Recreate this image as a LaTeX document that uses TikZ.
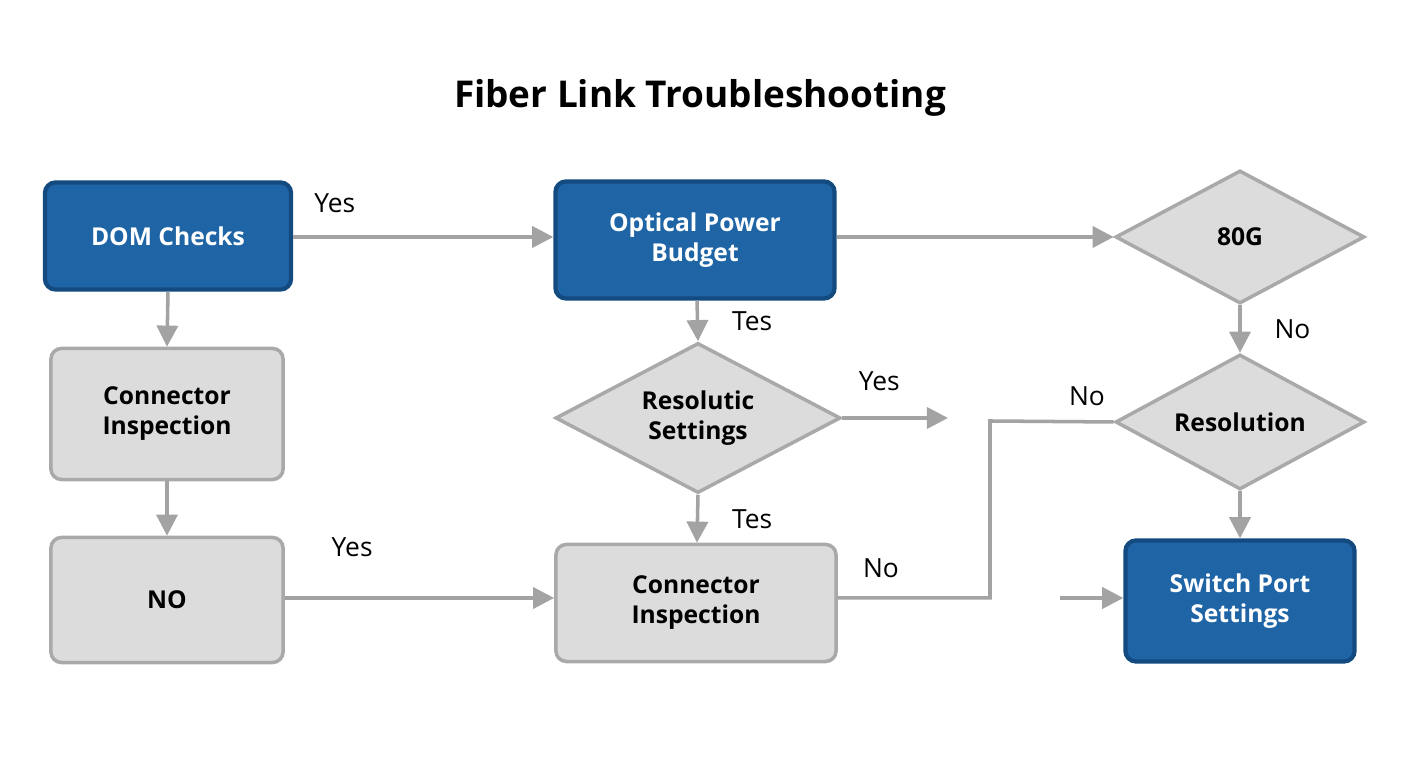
\documentclass[tikz,border=0pt]{standalone}
\usepackage{fontspec}
\setmainfont{Open Sans}
\usetikzlibrary{shapes.geometric,arrows.meta}
\definecolor{bl}{HTML}{1F65A6}
\definecolor{bld}{HTML}{134A80}
\definecolor{gf}{HTML}{DCDCDC}
\definecolor{gd}{HTML}{A9A9A9}
\definecolor{ar}{HTML}{A3A3A3}
\begin{document}
\begin{tikzpicture}[x=0.01cm,y=-0.01cm,
 bbox/.style={draw=bld,line width=1.2pt,fill=bl,rounded corners=3pt,text=white,font=\fontsize{7}{8.5}\selectfont\bfseries,align=center,inner sep=0},
 gbox/.style={draw=gd,line width=1pt,fill=gf,rounded corners=3pt,font=\fontsize{7}{8.5}\selectfont\bfseries,align=center,inner sep=0},
 dia/.style={diamond,aspect=1.8,draw=gd,line width=1pt,fill=gf,font=\fontsize{7}{8.5}\selectfont\bfseries,align=center,inner sep=0},
 ln/.style={draw=ar,line width=1pt},
 arr/.style={ln,-{Triangle[length=6pt,width=6pt]}},
 lab/.style={font=\fontsize{7.5}{9}\selectfont}]
\useasboundingbox (0,0) rectangle (1408,768);
\node[font=\fontsize{10.5}{12}\selectfont\bfseries] (t) at (700,98) {Fiber Link Troubleshooting};
\node[bbox,minimum width=2.46cm,minimum height=1.07cm] (dom) at (168,236) {DOM Checks};
\node[gbox,minimum width=2.32cm,minimum height=1.31cm] (c1) at (167,414) {Connector\\Inspection};
\node[gbox,minimum width=2.32cm,minimum height=1.25cm] (no) at (167,600) {NO};
\node[bbox,minimum width=2.79cm,minimum height=1.17cm] (opb) at (695,240) {Optical Power\\Budget};
\node[dia,minimum width=2.85cm,minimum height=1.5cm] (rs) at (698,418) {Resolutic\\Settings};
\node[gbox,minimum width=2.8cm,minimum height=1.17cm] (c2) at (696,603) {Connector\\Inspection};
\node[dia,minimum width=2.49cm,minimum height=1.33cm] (g80) at (1240,237) {80G};
\node[dia,minimum width=2.49cm,minimum height=1.35cm] (res) at (1240,422) {Resolution};
\node[bbox,minimum width=2.29cm,minimum height=1.21cm] (sw) at (1240,601) {Switch Port\\Settings};
\coordinate (rsend) at (948,418);
\coordinate (swin) at (1060,598);
\draw[arr] (dom.east |- 0,237) -- (opb.west |- 0,237) node[lab,pos=0.16,above=3pt] {Yes};
\draw[arr] (dom.south) -- (c1.north);
\draw[arr] (c1.south) -- (no.north);
\draw[arr] (no.east |- 0,598) -- (c2.west |- 0,598) node[lab,pos=0.25,above=8pt] {Yes};
\draw[arr] (opb.south -| 697,0) -- (rs.north) node[lab,midway,right=6pt] {Tes};
\draw[arr] (rs.south) -- (c2.north -| 697,0) node[lab,midway,right=6pt] {Tes};
\draw[arr] (rs.east) -- (rsend) node[lab,pos=0.35,above=4pt] {Yes};
\draw[arr] (opb.east |- 0,237) -- (g80.west);
\draw[arr] (g80.south) -- (res.north) node[lab,midway,right=6pt] {No};
\draw[ln] (c2.east |- 0,598) -- (990,598) -- (990,421) -- (res.west);
\node[lab] (l1) at (881,568) {No};
\node[lab] (l2) at (1087,396) {No};
\draw[arr] (res.south) -- (sw.north);
\draw[arr] (swin) -- (sw.west |- swin);
\end{tikzpicture}
\end{document}
